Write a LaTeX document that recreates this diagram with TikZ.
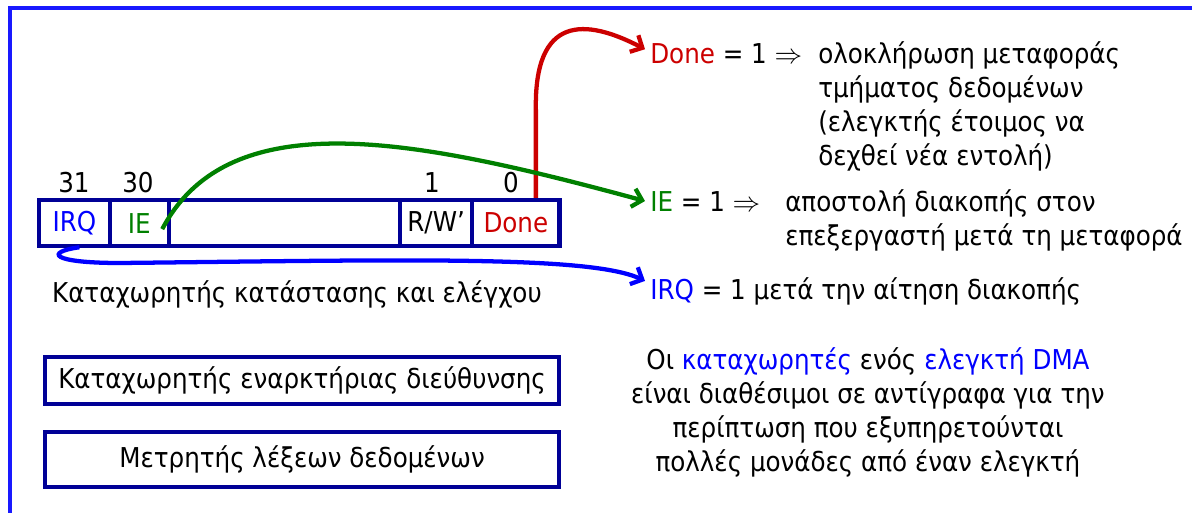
\documentclass[tikz,border=0pt]{standalone}
\usepackage{fontspec}
\setmainfont{DejaVu Sans Condensed}
\usetikzlibrary{arrows.meta,calc}
\definecolor{regblue}{RGB}{0,0,150}
\definecolor{frameblue}{RGB}{25,25,255}
\definecolor{txtblue}{RGB}{0,0,255}
\definecolor{txtgreen}{RGB}{0,128,0}
\definecolor{txtred}{RGB}{204,0,0}
\begin{document}
\begin{tikzpicture}[x=0.75pt,y=-0.75pt,
  every node/.style={font=\fontsize{20.5}{25.5}\selectfont, inner sep=0pt},
  cell/.style={draw=regblue, line width=3.2pt, minimum height=34.5pt, anchor=north west},
  regbox/.style={draw=regblue, line width=3.2pt, minimum width=385.5pt, anchor=north west},
  lbl/.style={anchor=base west},
  ctr/.style={anchor=base},
  conn/.style={line width=3.2pt, -{Straight Barb[length=7pt,width=14pt]}}]
\useasboundingbox (0,0) rectangle (1192,513);
\draw[frameblue, line width=3pt] (10,513) -- (10,8) -- (1192,8);
% register cells
\node[cell, minimum width=52.9pt, text=txtblue] (irq) at (37,198) {IRQ};
\node[cell, minimum width=44.6pt, text=txtgreen] (ie) at (107.5,198) {IE};
\node[cell, minimum width=173.25pt] (mid) at (167,198) {};
\node[cell, minimum width=54pt] (rw) at (398,198) {R/W’};
\node[cell, minimum width=65.6pt, text=txtred] (done) at (470,198) {Done};
% bit numbers
\node[ctr] (b31) at (74,193) {31};
\node[ctr] (b30) at (138,193) {30};
\node[ctr] (b1) at (432,193) {1};
\node[ctr] (b0) at (511,193) {0};
% caption
\node[ctr] (cap) at (297,302) {Καταχωρητής κατάστασης και ελέγχου};
% other registers
\node[regbox, minimum height=35.25pt] (addr) at (43,355) {Καταχωρητής εναρκτήριας διεύθυνσης};
\node[regbox, minimum height=41.25pt] (cnt) at (43,430) {Μετρητής λέξεων δεδομένων};
% right labels
\node[lbl] (donelbl) at (650,64) {\textcolor{txtred}{Done} = 1 $\Rightarrow$};
\node[lbl] (donet1) at (818,64) {ολοκλήρωση μεταφοράς};
\node[lbl] (donet2) at (818,98) {τμήματος δεδομένων};
\node[lbl] (donet3) at (818,132) {(ελεγκτής έτοιμος να};
\node[lbl] (donet4) at (818,166) {δεχθεί νέα εντολή)};
\node[lbl] (ielbl) at (650,212) {\textcolor{txtgreen}{IE} = 1 $\Rightarrow$};
\node[lbl] (iet1) at (785,212) {αποστολή διακοπής στον};
\node[lbl] (iet2) at (785,246) {επεξεργαστή μετά τη μεταφορά};
\node[lbl] (irqlbl) at (650,300) {\textcolor{txtblue}{IRQ} = 1 μετά την αίτηση διακοπής};
% note
\node[ctr] (n1) at (868,369) {Οι \textcolor{txtblue}{καταχωρητές} ενός \textcolor{txtblue}{ελεγκτή DMA}};
\node[ctr] (n2) at (868,403) {είναι διαθέσιμοι σε αντίγραφα για την};
\node[ctr] (n3) at (868,437) {περίπτωση που εξυπηρετούνται};
\node[ctr] (n4) at (868,471) {πολλές μονάδες από έναν ελεγκτή};
% connectors
\coordinate (rstart) at ($(done.north)+(20,0)$);
\coordinate (gstart) at ($(ie.east)+(-9,6)$);
\coordinate (bstart) at ($(irq.south)+(5,-1)$);
\draw[conn, txtred] (rstart) -- ++(0,-88) .. controls (534,15) and (585,18) .. ($(donelbl.west)+(-5,-5)$);
\draw[conn, txtgreen] (gstart) .. controls (230,100) and (420,140) .. ($(ielbl.west)+(-5,-1)$);
\draw[conn, txtblue] (bstart) .. controls (45,252) and (50,263) .. (120,263) .. controls (400,260) and (590,255) .. ($(irqlbl.west)+(-5,-11)$);
\end{tikzpicture}
\end{document}
